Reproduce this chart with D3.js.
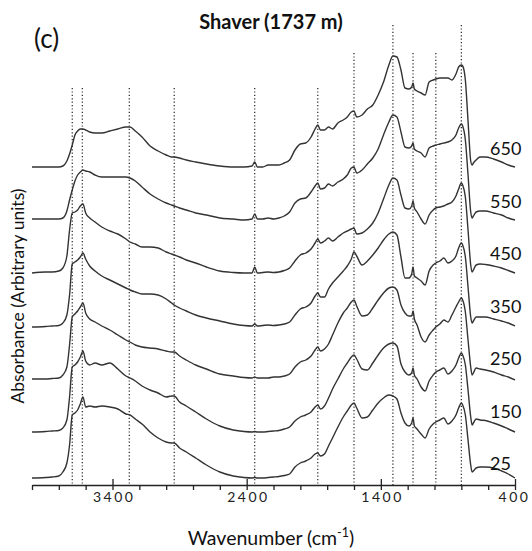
<!DOCTYPE html>
<html><head><meta charset="utf-8">
<script src="https://cdn.jsdelivr.net/npm/d3@7"></script>
<style>
html,body{margin:0;padding:0;background:#fff;}
svg{display:block;font-family:Lato,"Open Sans",sans-serif;}
</style></head><body>
<svg id="chart" width="532" height="551"></svg>
<script>
// ---- data ----
const wavenumbers = [4000,3900,3850,3800,3770,3740,3720,3700,3680,3660,3640,3620,3600,3570,3530,3480,3420,3360,3300,3270,3230,3180,3120,3060,3000,2960,2940,2900,2850,2780,2700,2600,2500,2420,2360,2340,2320,2280,2240,2200,2160,2120,2080,2040,2000,1960,1920,1890,1870,1850,1820,1790,1760,1720,1680,1650,1620,1600,1580,1540,1500,1460,1420,1380,1340,1310,1280,1250,1220,1190,1170,1160,1150,1130,1100,1070,1040,1010,990,960,930,900,870,840,820,800,790,770,750,730,720,710,690,660,620,560,500,450,400];

const temperatures = ["650","550","450","350","250","150","25"];

const abs650 = [318,318,318,318,319,324,331,340,350,354, 356,356,355,353,352,352,354,356,358,358, 354,348,339,334,330,328,328,327,325,323, 321,319,318,318,319,323,318,318,320,320, 320,322,325,335,341,342,348,356,360,355, 355,358,356,362,365,368,373,374,368,370, 376,380,390,403,420,429,428,415,397,396, 398,402,396,394,392,390,403,405,406,407, 407,407,405,411,418,420,419,405,364,324, 320,322,325,328,328,326,323,320,318];
const abs550 = [266,266,266,266,267,274,285,295,304,310, 313,315,314,313,310,308,308,308,308,307, 304,298,291,286,282,280,279,277,275,272, 270,267,266,265,266,271,266,266,267,266, 267,269,273,282,286,287,293,299,302,296, 297,301,299,303,306,310,317,318,312,315, 321,327,336,350,363,370,368,353,338,337, 339,342,336,334,332,328,337,339,340,341, 342,343,345,350,357,361,359,345,310,273, 267,269,273,274,274,272,270,267,265];
const abs450 = [212,213,213,214,217,229,255,272,273,275, 279,281,272,267,263,258,254,251,246,243, 241,238,238,237,233,231,230,228,225,222, 218,214,212.5,212,212,218,212,212.5,213,212.5, 213,214.5,217,224,230,232,236,242,246,242, 244,247,244,248,252,254,256,257,251,252, 256,262,272,286,300,307,305,290,277,276, 279,284,277,273,266,261,270,275,277,278, 279,281,283,289,296,302,300,288,255,220, 213,215,220,221,220.5,219,217,214.5,212];
const abs350 = [158,158.5,159,159.5,162,170,190,221,223,225, 228,232,226,219,214,209,205,201,197,195, 193,191,191,190,186,182,180,177,174,170, 167,164,161,159.5,159,161,159,159.5,160,159.5, 160,161,163,170,176,178,182,189,192,188, 188,196,202,208,214,219,226,233,229,220, 224,230,237,245,251,253,250,228,207,207, 211,218,209,207,204,200,214,220,222,224, 227,222,224,229,237,242,240,228,198,168, 162,164,168,168,168,166,164,162,159];
const abs250 = [106,106,106.5,107,110,118,140,168,171,174, 178,182,172,166,163,159,155,150,145,143, 140,138,137,136,134,133,133,129,125,120, 116,111,109,107.5,107,108,107,107,107,108, 108,109,111,118,123,125,129,135,138,134, 136,141,150,162,172,177,183,185,179,169, 170,177,185,192,197,198,195,180,172,169, 169,174,166,160,148,143,150,155,158,161, 165,163,170,178,183,187,185,173,145,118, 110,112,117,116,115,113,110,108,105];
const abs150 = [53,53.5,54,54.5,57,65,88,118,120,123, 128,134,124,120,122,120,122,116,109,107, 104,99,95,92,88,89,89,83,79,73, 66,59,55,53.5,53,53.5,53,53,53.5,54, 54.5,56,58,64,68,70,73,78,80,76, 79,87,96,106,116,122,128,130,126,116, 115,122,130,137,141,142,139,121,113,110, 112,117,110,106,98,94,104,110,113,115, 117,111,114,120,127,132,130,120,95,68, 60,62,66,65,64.5,62,59,56,53];
const abs25 = [7,7.5,8,9,13,22,40,70,72,75, 81,88,78,79,78,79,78,76,71,70, 66,61,53,47,43,42,42,37,33,27, 20,13,9,7.5,7,7.5,7,7,7.5,8, 8.5,9.5,11,18,22,24,27,31,32,29, 31,39,47,58,68,74,80,82,77,67, 68,75,82,87,90,89,86,72,62,59, 62,67,59,56,51,47,56,61,63,65, 67,61,64,70,77,82,80,70,45,20, 13,14,17,18,18,17,14,11,7];

const bandWavenumbers = [3700,3625,3275,2940,2340,1870,1600,1310,1160,990,800];
const tickValues = [4000,3800,3600,3400,3200,3000,2800,2600,2400,2200,2000,1800,1600,1400,1200,1000,800,600,400];
const majorTicks = [3400,2400,1400,400];

const seriesValues = [abs650,abs550,abs450,abs350,abs250,abs150,abs25];

// ---- layout ----
const svg = d3.select("#chart");
const x = d3.scaleLinear().domain([4000,400]).range([32,515]);
const y = d3.scaleLinear().domain([0,460]).range([485,25]);
const bandTop = [397,397,397,397,397,397,432,460,432,432,460]; // marker top levels (y units)

// dotted band markers
svg.append("g").selectAll("line").data(bandWavenumbers).join("line")
  .attr("x1",d=>x(d)).attr("x2",d=>x(d))
  .attr("y1",(d,i)=>y(bandTop[i])).attr("y2",y(0))
  .attr("stroke","#222").attr("stroke-width",1.2)
  .attr("stroke-dasharray","1.2,2.2");

// spectra
const line = d3.line()
  .x((d,i)=>x(wavenumbers[i]))
  .y(d=>y(d))
  .curve(d3.curveMonotoneX);
svg.append("g").selectAll("path").data(seriesValues).join("path")
  .attr("d",d=>line(d))
  .attr("fill","none").attr("stroke","#333").attr("stroke-width",1.4)
  .attr("stroke-linejoin","round");

// labels
svg.append("g").selectAll("text").data(temperatures).join("text")
  .attr("x",490).attr("y",(d,i)=>155+i*52.5)
  .attr("font-size",18).attr("fill","#111")
  .text(d=>d);

// x axis
const axis = d3.axisBottom(x).tickValues(tickValues).tickSize(5).tickSizeOuter(0).tickPadding(2)
  .tickFormat(d=>majorTicks.includes(d)?String(d):"");
const gx = svg.append("g").attr("transform",`translate(0,${y(0)})`).call(axis);
gx.select(".domain").attr("stroke","#222").attr("stroke-width",1.3);
gx.selectAll(".tick line").attr("stroke","#222").attr("stroke-width",1.3)
  .attr("y1",d=>majorTicks.includes(d)?-6:0);
gx.selectAll(".tick text").attr("font-size",14).attr("fill","#222")
  .attr("font-family","Lato,'Open Sans',sans-serif")
  .style("letter-spacing","2.5px")
  .attr("dx",d=>d===400?-1:1.2);

// titles
svg.append("text").attr("x",271).attr("y",29).attr("text-anchor","middle")
  .attr("font-size",20).attr("font-weight","bold").attr("fill","#111").text("Shaver (1737 m)");
svg.append("text").attr("x",34).attr("y",48)
  .attr("font-size",26).attr("fill","#111").text("(c)");
const xt = svg.append("text").attr("x",271).attr("y",545).attr("text-anchor","middle")
  .attr("font-size",19.5).attr("fill","#111");
xt.append("tspan").text("Wavenumber (cm");
xt.append("tspan").attr("dy",-8).attr("font-size",12.5).text("-1");
xt.append("tspan").attr("dy",8).text(")");
svg.append("text").attr("transform","translate(24,296) rotate(-90)").attr("text-anchor","middle")
  .attr("font-size",17.5).attr("fill","#111").text("Absorbance (Arbitrary units)");
</script>
</body></html>
